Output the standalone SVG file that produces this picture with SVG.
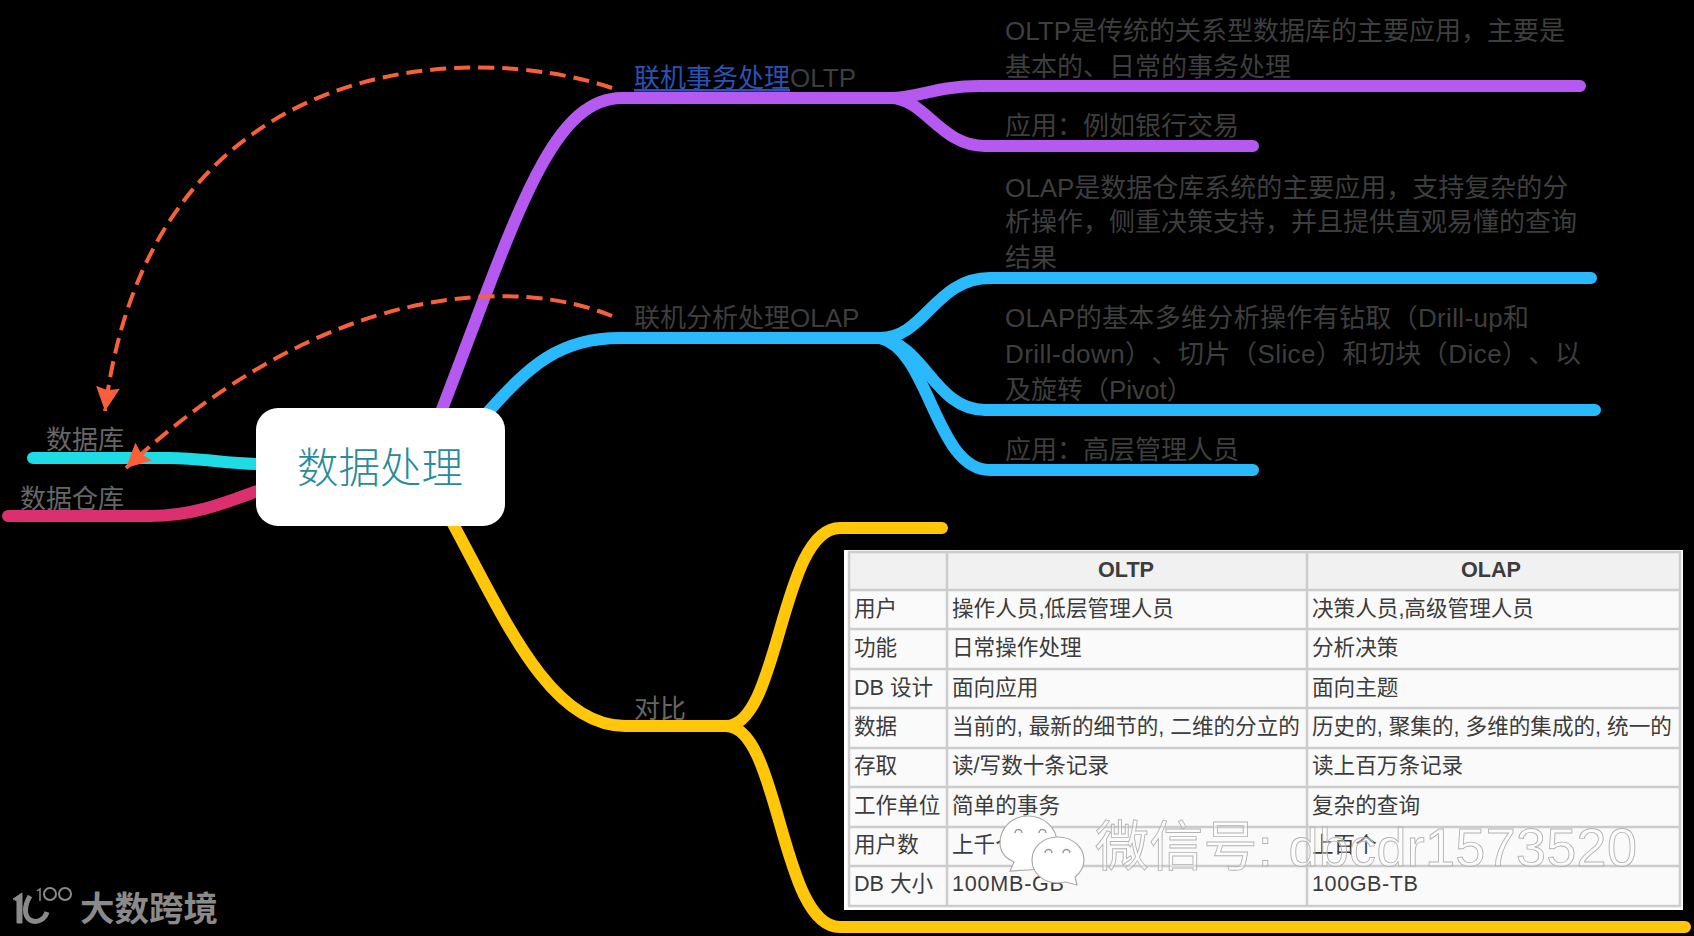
<svg xmlns="http://www.w3.org/2000/svg" width="1694" height="936" viewBox="0 0 1694 936">
<defs>
<marker id="ah" markerUnits="userSpaceOnUse" markerWidth="26" markerHeight="26" refX="24" refY="12" orient="auto"><path d="M0 0L24 12L0 24L3 12Z" fill="#f9603a"/></marker>
</defs>
<style>
text{font-family:"Liberation Sans","Noto Sans CJK SC",sans-serif;text-spacing-trim:space-all}
.l{font-size:26px;fill:#3e3e3e}
.g{font-size:26px;fill:#666}
.b{fill:none;stroke-width:12;stroke-linecap:round}
.d{fill:none;stroke:#f9603a;stroke-width:4;stroke-dasharray:16 8}
.t{font-size:21.6px;fill:#3c3c3c}
.gl{stroke:#ccc;stroke-width:2.5;fill:none}
.wc{fill:#fff;stroke:#aaa;stroke-width:1.2}
.ey{fill:none;stroke:#999;stroke-width:1.5}
.lg{fill:none;stroke:#8a8a8a}
</style>
<rect width="1694" height="936" fill="#000"/>
<g id="connectors">
<path class="b" stroke="#b659f0" d="M441 412C515 220 550 98 622 98H890C920 98 935 86 980 86H1580"/>
<path class="b" stroke="#b659f0" d="M890 98C925 98 940 146 985 146H1253"/>
<path class="b" stroke="#29b9fc" d="M488 412C530 365 560 338 620 338H880C925 338 935 278 990 278H1591"/>
<path class="b" stroke="#29b9fc" d="M880 338C925 345 935 410 985 410H1595"/>
<path class="b" stroke="#29b9fc" d="M880 338C930 350 935 470 990 470H1253"/>
<path class="b" stroke="#ffc60a" d="M452 522C505 620 550 726 625 726H726C780 726 780 528 840 528H942"/>
<path class="b" stroke="#ffc60a" d="M726 726C780 726 780 927 840 927H1685"/>
<path class="b" stroke="#1fdbe6" d="M33 458H170C200 458 230 464 260 464"/>
<path class="b" stroke="#dc2f6f" d="M8 516H150C190 516 220 505 260 490"/>
<path class="d" marker-end="url(#ah)" d="M612 88C470 40 150 50 105 411"/>
<path class="d" marker-end="url(#ah)" d="M612 316C520 278 330 278 126 468"/>
</g>
<g id="root">
<rect x="256" y="408" width="249" height="118" rx="22" fill="#fff"/>
<text x="380" y="483" text-anchor="middle" font-size="41.5" fill="#2a8a9a" font-weight="300">数据处理</text>
</g>
<g id="oltp">
<text x="634" y="87" class="l"><tspan fill="#2a52b5" text-decoration="underline">联机事务处理</tspan>OLTP</text>
<text x="1005" y="40" class="l">OLTP是传统的关系型数据库的主要应用&#xFF0C;主要是</text>
<text x="1005" y="76" class="l">基本的、日常的事务处理</text>
<text x="1005" y="135" class="l">应用&#xFF1A;例如银行交易</text>
</g>
<g id="olap">
<text x="634" y="327" class="l">联机分析处理OLAP</text>
<text x="1005" y="197" class="l">OLAP是数据仓库系统的主要应用&#xFF0C;支持复杂的分</text>
<text x="1005" y="231" class="l">析操作&#xFF0C;侧重决策支持&#xFF0C;并且提供直观易懂的查询</text>
<text x="1005" y="267" class="l">结果</text>
<text x="1005" y="327" class="l" textLength="524">OLAP的基本多维分析操作有钻取&#xFF08;Drill-up和</text>
<text x="1005" y="363" class="l" textLength="576">Drill-down&#xFF09;、切片&#xFF08;Slice&#xFF09;和切块&#xFF08;Dice&#xFF09;、以</text>
<text x="1005" y="399" class="l">及旋转&#xFF08;Pivot&#xFF09;</text>
<text x="1005" y="459" class="l">应用&#xFF1A;高层管理人员</text>
</g>
<g id="db"><text x="46" y="449" class="g">数据库</text></g>
<g id="dw"><text x="20" y="508" class="g">数据仓库</text></g>
<g id="compare"><text x="634" y="718" class="g">对比</text></g>
<g id="table">
<rect x="844" y="550" width="839" height="360" fill="#fff"/>
<rect x="849" y="552" width="831" height="354" fill="#fafafa"/>
<rect x="849" y="552" width="831" height="38" fill="#f1f1f1"/>
<g class="gl">
<rect x="849" y="552" width="831" height="354"/>
<path d="M947 552V906M1307 552V906M849 590H1680M849 629H1680M849 669H1680M849 708H1680M849 748H1680M849 787H1680M849 827H1680M849 866H1680"/>
</g>
<g class="t">
<text x="1126" y="577" text-anchor="middle" font-weight="700">OLTP</text>
<text x="1491" y="577" text-anchor="middle" font-weight="700">OLAP</text>
<text x="854" y="616">用户</text><text x="952" y="616">操作人员,低层管理人员</text><text x="1312" y="616">决策人员,高级管理人员</text>
<text x="854" y="655">功能</text><text x="952" y="655">日常操作处理</text><text x="1312" y="655">分析决策</text>
<text x="854" y="695">DB 设计</text><text x="952" y="695">面向应用</text><text x="1312" y="695">面向主题</text>
<text x="854" y="734">数据</text><text x="952" y="734">当前的, 最新的细节的, 二维的分立的</text><text x="1312" y="734">历史的, 聚集的, 多维的集成的, 统一的</text>
<text x="854" y="773">存取</text><text x="952" y="773">读/写数十条记录</text><text x="1312" y="773">读上百万条记录</text>
<text x="854" y="813">工作单位</text><text x="952" y="813">简单的事务</text><text x="1312" y="813">复杂的查询</text>
<text x="854" y="852">用户数</text><text x="952" y="852">上千个</text><text x="1312" y="852">上百个</text>
<text x="854" y="891">DB 大小</text><text x="952" y="891" textLength="112">100MB-GB</text><text x="1312" y="891" textLength="106">100GB-TB</text>
</g>
</g>
<g id="watermark">
<path class="wc" d="M1028 816C1044 816 1057 828 1057 843C1057 858 1044 870 1028 870L1010 871L1014 862C1005 858 1000 851 1000 843C1000 828 1012 816 1028 816Z"/>
<path class="ey" d="M1015 833a3.5 3.5 0 0 1 7 0M1039 833a3.5 3.5 0 0 1 7 0"/>
<path class="wc" d="M1058 837C1072 837 1084 847 1084 860C1084 867 1080 873 1075 877L1077 885L1066 882L1058 883C1043 883 1032 873 1032 860C1032 847 1043 837 1058 837Z"/>
<path class="ey" d="M1045 853a3.5 3.5 0 0 1 7 0M1063 853a3.5 3.5 0 0 1 7 0"/>
<text x="1095" y="866" font-size="54" textLength="542" fill="#fff" fill-opacity=".35" stroke="#b4b4b4" stroke-width=".9">微信号: dbcdr1573520</text>
</g>
<g id="logo">
<path d="M13 899L22 893V923H17V901Z" fill="#8a8a8a" stroke="#8a8a8a"/>
<path class="lg" stroke-width="5" d="M30 896C24 906 24 916 30 920C37 924 45 919 47 912"/>
<path class="lg" stroke-width="1.5" d="M37 891L40 889V901"/>
<circle class="lg" stroke-width="2" cx="50" cy="894" r="6"/>
<circle class="lg" stroke-width="2" cx="65" cy="894" r="6"/>
<text x="80" y="921" font-size="34.5" fill="#8a8a8a" font-weight="700">大数跨境</text>
</g>
</svg>
